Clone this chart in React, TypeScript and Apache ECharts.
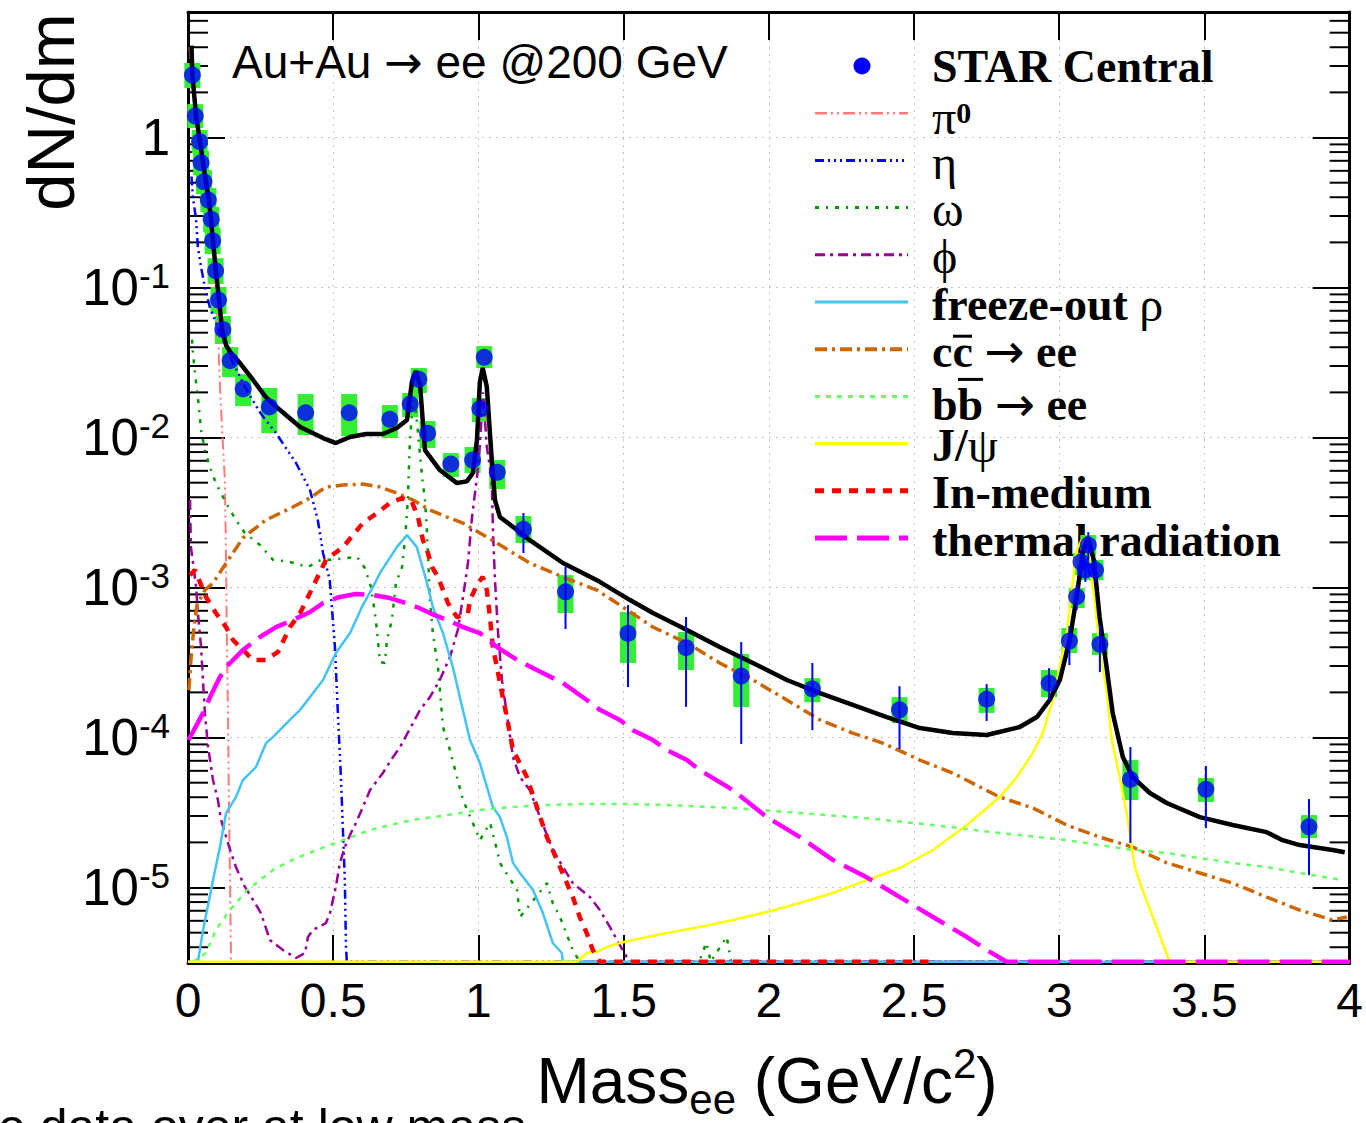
import React, { useEffect, useRef } from "react";
import * as echarts from "echarts";

// ---------------- axis range ----------------
const Y_MIN = 3.14e-6;
const Y_MAX = 6.87;
const X_MIN = 0;
const X_MAX = 4;
const FLOOR = 3.2e-6; // curves that vanish sit on the bottom frame

// ---------------- STAR data: [mass, dN/dm, sysLo, sysHi, statLo, statHi] ----------------
const STAR_POINTS: (number | null)[][] = [
  [0.015, 2.61, 2.14, 3.14, null, null],
  [0.025, 1.39, 1.157, 1.67, null, null],
  [0.04, 0.938, 0.788, 1.122, null, null],
  [0.045, 0.679, 0.562, 0.813, null, null],
  [0.055, 0.507, 0.42, 0.607, null, null],
  [0.07, 0.383, 0.319, 0.461, null, null],
  [0.08, 0.285, 0.234, 0.344, null, null],
  [0.085, 0.205, 0.167, 0.249, null, null],
  [0.095, 0.1294, 0.1055, 0.157, null, null],
  [0.105, 0.0825, 0.0666, 0.1008, null, null],
  [0.12, 0.0526, 0.042, 0.0646, null, null],
  [0.145, 0.0325, 0.0253, 0.0401, null, null],
  [0.19, 0.0211, 0.0162, 0.0265, null, null],
  [0.28, 0.016, 0.0107, 0.0214, null, null],
  [0.405, 0.01463, 0.01039, 0.0195, null, null],
  [0.555, 0.01463, 0.01023, 0.0195, null, null],
  [0.695, 0.01322, 0.00992, 0.01647, null, null],
  [0.765, 0.01672, 0.0137, 0.0198, null, null],
  [0.795, 0.02443, 0.0198, 0.0291, null, null],
  [0.825, 0.01067, 0.00851, 0.01288, null, null],
  [0.905, 0.00666, 0.00545, 0.00788, null, null],
  [0.98, 0.00708, 0.0058, 0.00865, null, null],
  [1.005, 0.01556, 0.01269, 0.01834, null, null],
  [1.02, 0.03425, 0.0291, 0.0407, null, null],
  [1.065, 0.00586, 0.00454, 0.00708, null, null],
  [1.155, 0.002443, 0.00198, 0.003, 0.0017, 0.00314],
  [1.3, 0.000937, 0.000676, 0.00121, 0.000529, 0.00137],
  [1.515, 0.000494, 0.000314, 0.000687, 0.000217, 0.000764],
  [1.715, 0.000397, 0.000282, 0.000505, 0.00016, 0.000636],
  [1.905, 0.000257, 0.00016, 0.00036, 9.05e-5, 0.000433],
  [2.15, 0.000211, 0.000172, 0.000249, 0.000112, 0.000314],
  [2.45, 0.000153, 0.000125, 0.000186, 8.38e-5, 0.00022],
  [2.75, 0.00018, 0.000146, 0.000214, 0.000129, 0.000227],
  [2.965, 0.00023, 0.000186, 0.000282, 0.000178, 0.00029],
  [3.035, 0.00044, 0.000366, 0.000537, 0.000304, 0.000554],
  [3.06, 0.000868, 0.00073, 0.000992, 0.000708, 0.00104],
  [3.075, 0.00148, 0.00121, 0.0017, 0.00121, 0.00178],
  [3.09, 0.001308, 0.00112, 0.00153, 0.00109, 0.00157],
  [3.1, 0.00192, 0.00162, 0.00224, 0.00153, 0.00234],
  [3.125, 0.001308, 0.00112, 0.00153, 0.00109, 0.00153],
  [3.14, 0.000418, 0.000355, 0.000497, 0.000273, 0.000562],
  [3.245, 5.26e-5, 3.83e-5, 7.08e-5, 1.98e-5, 8.64e-5],
  [3.505, 4.52e-5, 3.72e-5, 5.37e-5, 2.49e-5, 6.46e-5],
  [3.86, 2.54e-5, 2.14e-5, 3.04e-5, 1.21e-5, 3.89e-5],
];

// ---------------- cocktail curves: [mass, dN/dm] ----------------
const TOTAL = [
  [0.012, 4.1], [0.015, 2.61], [0.028, 1.39], [0.041, 0.948], [0.052, 0.676], [0.062, 0.505],
  [0.072, 0.383], [0.079, 0.286], [0.086, 0.205], [0.096, 0.129], [0.107, 0.0825], [0.117, 0.0529],
  [0.131, 0.0414], [0.145, 0.0372], [0.179, 0.0314], [0.224, 0.0242], [0.268, 0.0186], [0.317, 0.01525],
  [0.386, 0.01175], [0.465, 0.00992], [0.509, 0.00919], [0.558, 0.01008], [0.613, 0.01055], [0.671, 0.01055],
  [0.719, 0.01157], [0.754, 0.01308], [0.771, 0.02344], [0.785, 0.02775], [0.799, 0.0224], [0.816, 0.00825],
  [0.867, 0.00607], [0.926, 0.00497], [0.96, 0.0051], [0.981, 0.0058], [0.995, 0.00962], [1.005, 0.02344],
  [1.015, 0.0291], [1.029, 0.0217], [1.046, 0.00708], [1.057, 0.00383], [1.074, 0.00295], [1.133, 0.00242],
  [1.177, 0.00207], [1.291, 0.001457], [1.408, 0.00112], [1.522, 0.000825], [1.601, 0.000676], [1.718, 0.000521],
  [1.831, 0.000401], [1.945, 0.000314], [2.062, 0.000242], [2.176, 0.000198], [2.289, 0.000165], [2.406, 0.000137],
  [2.52, 0.0001157], [2.633, 0.0001072], [2.75, 0.0001039], [2.864, 0.0001175], [2.923, 0.000137], [2.967, 0.000178],
  [3.002, 0.000242], [3.036, 0.000447], [3.06, 0.000868], [3.081, 0.0017], [3.098, 0.00217], [3.119, 0.00153],
  [3.139, 0.000636], [3.163, 0.000295], [3.184, 0.000146], [3.219, 7.41e-5], [3.253, 5.45e-5], [3.312, 4.27e-5],
  [3.37, 3.66e-5], [3.484, 2.95e-5], [3.597, 2.61e-5], [3.714, 2.34e-5], [3.769, 2.07e-5], [3.828, 1.92e-5],
  [3.941, 1.78e-5], [3.983, 1.72e-5],
];

const PI0 = [
  [0.005, 4.0], [0.014, 2.45], [0.028, 1.3], [0.041, 0.87], [0.052, 0.61], [0.062, 0.45], [0.072, 0.33],
  [0.079, 0.24], [0.086, 0.165], [0.096, 0.095], [0.104, 0.045], [0.111, 0.02], [0.118, 0.0107], [0.127, 0.0052],
  [0.131, 0.00154], [0.134, 4.5e-4], [0.138, 1.27e-4], [0.141, 3.6e-5], [0.145, 1.05e-5], [0.148, FLOOR], [4.0, FLOOR],
];

const ETA = [
  [0.012, 0.55], [0.017, 0.4], [0.028, 0.282], [0.034, 0.186], [0.045, 0.137], [0.058, 0.1008], [0.075, 0.0741],
  [0.093, 0.0607], [0.11, 0.0497], [0.15, 0.033], [0.2, 0.021], [0.25, 0.0145], [0.303, 0.0107], [0.372, 0.00676],
  [0.42, 0.00447], [0.447, 0.00282], [0.465, 0.0017], [0.488, 0.00112], [0.506, 0.000401], [0.516, 0.000146],
  [0.527, 5.21e-5], [0.54, 1.12e-5], [0.544, 4.0e-6], [0.547, FLOOR], [4.0, FLOOR],
];

const OMEGA = [
  [0.014, 0.045], [0.017, 0.0366], [0.024, 0.0269], [0.034, 0.0186], [0.045, 0.0112], [0.058, 0.00825],
  [0.075, 0.00636], [0.096, 0.00497], [0.131, 0.00366], [0.165, 0.00282], [0.196, 0.00231], [0.248, 0.00192],
  [0.293, 0.00153], [0.351, 0.00148], [0.413, 0.00137], [0.458, 0.00153], [0.489, 0.00153], [0.582, 0.0016],
  [0.609, 0.00135], [0.63, 0.00101], [0.647, 0.000607], [0.661, 0.000319], [0.678, 0.000314], [0.685, 0.000447],
  [0.702, 0.000607], [0.716, 0.00107], [0.737, 0.00137], [0.747, 0.00207], [0.757, 0.00383], [0.764, 0.00962],
  [0.775, 0.018], [0.785, 0.015], [0.792, 0.0107], [0.806, 0.00545], [0.816, 0.00383], [0.823, 0.00231],
  [0.833, 0.000825], [0.843, 0.000497], [0.861, 0.00029], [0.878, 0.0001175], [0.902, 8.25e-5], [0.926, 5.45e-5],
  [0.947, 3.83e-5], [0.981, 2.69e-5], [1.005, 2.07e-5], [1.04, 2.69e-5], [1.064, 1.78e-5], [1.074, 1.46e-5],
  [1.133, 9.62e-6], [1.143, 6.36e-6], [1.236, 1.07e-5], [1.256, 7.88e-6], [1.281, 6.36e-6], [1.325, 3.83e-6],
  [1.349, FLOOR], [1.76, FLOOR], [1.785, 4.3e-6], [1.8, FLOOR], [1.855, 4.7e-6], [1.87, FLOOR], [4.0, FLOOR],
];

const PHI = [
  [0.007, 0.00383], [0.01, 0.00186], [0.028, 0.00101], [0.034, 0.000676], [0.045, 0.000401], [0.058, 0.000146],
  [0.069, 8.71e-5], [0.086, 5.21e-5], [0.103, 3.83e-5], [0.114, 2.82e-5], [0.145, 1.78e-5], [0.165, 1.37e-5],
  [0.196, 1.01e-5], [0.231, 7.88e-6], [0.251, 6.76e-6], [0.282, 4.47e-6], [0.327, 3.83e-6], [0.372, 3.39e-6],
  [0.403, 3.66e-6], [0.413, 4.68e-6], [0.43, 5.21e-6], [0.475, 5.8e-6], [0.489, 6.76e-6], [0.509, 1.01e-5],
  [0.523, 1.46e-5], [0.54, 1.86e-5], [0.561, 2.31e-5], [0.578, 2.69e-5], [0.602, 3.44e-5], [0.627, 4.47e-5],
  [0.671, 5.8e-5], [0.699, 7.08e-5], [0.73, 8.64e-5], [0.775, 0.000125], [0.799, 0.000153], [0.833, 0.000186],
  [0.867, 0.000242], [0.902, 0.000344], [0.929, 0.000521], [0.947, 0.000865], [0.964, 0.001457], [0.978, 0.00295],
  [0.995, 0.00545], [1.005, 0.00891], [1.016, 0.02], [1.029, 0.00865], [1.046, 0.00521], [1.05, 0.00242],
  [1.057, 0.00112], [1.067, 0.000521], [1.081, 0.000242], [1.098, 0.000143], [1.119, 7.41e-5], [1.143, 5.45e-5],
  [1.177, 4.47e-5], [1.212, 2.95e-5], [1.256, 1.78e-5], [1.325, 1.07e-5], [1.384, 8.64e-6], [1.418, 7.08e-6],
  [1.453, 5.45e-6], [1.477, 4.47e-6], [1.511, 3.44e-6], [1.53, FLOOR], [4.0, FLOOR],
];

const RHO = [
  [0.0, FLOOR], [0.034, FLOOR], [0.052, 5.21e-6], [0.086, 1.12e-5], [0.11, 1.86e-5], [0.131, 3.14e-5],
  [0.165, 4.01e-5], [0.189, 5.21e-5], [0.234, 6.36e-5], [0.269, 9.19e-5], [0.293, 0.000101], [0.351, 0.000131],
  [0.386, 0.000153], [0.42, 0.000186], [0.465, 0.000242], [0.509, 0.000366], [0.558, 0.000497], [0.602, 0.000764],
  [0.637, 0.00101], [0.661, 0.00125], [0.719, 0.00186], [0.754, 0.00224], [0.788, 0.00186], [0.823, 0.00107],
  [0.843, 0.000741], [0.878, 0.000497], [0.912, 0.000295], [0.936, 0.000186], [0.971, 9.62e-5], [1.005, 6.76e-5],
  [1.05, 3.44e-5], [1.074, 2.95e-5], [1.098, 2.17e-5], [1.119, 1.46e-5], [1.143, 1.25e-5], [1.188, 9.62e-6],
  [1.222, 6.76e-6], [1.256, 4.27e-6], [1.287, 3.66e-6], [1.291, FLOOR], [4.0, FLOOR],
];

const CCBAR = [
  [0.003, 0.000207], [0.01, 0.000329], [0.021, 0.000562], [0.031, 0.000764], [0.058, 0.000962], [0.086, 0.00107],
  [0.12, 0.00135], [0.155, 0.0017], [0.189, 0.00214], [0.224, 0.00242], [0.268, 0.00282], [0.361, 0.00344],
  [0.42, 0.00395], [0.475, 0.00468], [0.534, 0.00482], [0.602, 0.0049], [0.661, 0.00468], [0.719, 0.00427],
  [0.775, 0.00383], [0.833, 0.00329], [0.892, 0.00295], [0.947, 0.00269], [1.005, 0.00231], [1.064, 0.00198],
  [1.119, 0.0017], [1.177, 0.001457], [1.291, 0.001175], [1.408, 0.000962], [1.487, 0.000764], [1.601, 0.000545],
  [1.718, 0.000427], [1.831, 0.000314], [1.945, 0.000242], [2.062, 0.000178], [2.176, 0.000131], [2.289, 0.000107],
  [2.392, 9.19e-5], [2.52, 7.08e-5], [2.633, 5.8e-5], [2.795, 4.01e-5], [2.909, 3.39e-5], [3.026, 2.61e-5],
  [3.139, 2.17e-5], [3.253, 1.86e-5], [3.37, 1.46e-5], [3.484, 1.25e-5], [3.597, 1.07e-5], [3.714, 8.64e-6],
  [3.828, 7.08e-6], [3.941, 6.07e-6], [3.99, 6.36e-6],
];

const BBBAR = [
  [0.017, FLOOR], [0.062, 3.66e-6], [0.096, 5.21e-6], [0.145, 7.08e-6], [0.203, 9.62e-6], [0.248, 1.12e-5],
  [0.293, 1.31e-5], [0.372, 1.57e-5], [0.454, 1.81e-5], [0.534, 2.07e-5], [0.627, 2.42e-5], [0.695, 2.61e-5],
  [0.775, 2.82e-5], [0.892, 3.04e-5], [1.005, 3.29e-5], [1.119, 3.44e-5], [1.236, 3.55e-5], [1.349, 3.6e-5],
  [1.511, 3.6e-5], [1.649, 3.55e-5], [1.876, 3.39e-5], [2.107, 3.14e-5], [2.337, 2.9e-5], [2.565, 2.61e-5],
  [2.795, 2.31e-5], [2.957, 2.14e-5], [3.026, 2.07e-5], [3.139, 1.92e-5], [3.253, 1.78e-5], [3.37, 1.7e-5],
  [3.484, 1.57e-5], [3.597, 1.46e-5], [3.714, 1.37e-5], [3.828, 1.25e-5], [3.976, 1.12e-5],
];

const JPSI = [
  [0.0, FLOOR], [1.339, FLOOR], [1.373, 3.66e-6], [1.408, 3.73e-6], [1.442, 4.01e-6], [1.487, 4.27e-6],
  [1.532, 4.47e-6], [1.649, 4.97e-6], [1.762, 5.45e-6], [1.876, 6.07e-6], [1.993, 6.87e-6], [2.107, 7.88e-6],
  [2.22, 9.19e-6], [2.337, 1.12e-5], [2.451, 1.35e-5], [2.565, 1.78e-5], [2.682, 2.61e-5], [2.795, 4.01e-5],
  [2.854, 5.45e-5], [2.909, 7.88e-5], [2.943, 0.000107], [2.978, 0.000178], [3.002, 0.000295], [3.026, 0.000497],
  [3.043, 0.000962], [3.06, 0.00178], [3.077, 0.00207], [3.098, 0.00186], [3.122, 0.000825], [3.139, 0.000383],
  [3.163, 0.000207], [3.181, 9.62e-5], [3.208, 5.45e-5], [3.232, 3.14e-5], [3.26, 1.37e-5], [3.287, 9.62e-6],
  [3.322, 6.36e-6], [3.356, 4.27e-6], [3.38, FLOOR], [4.0, FLOOR],
];

const INMEDIUM = [
  [0.007, 0.00121], [0.024, 0.00131], [0.062, 0.000865], [0.096, 0.000676], [0.131, 0.000545], [0.155, 0.000447],
  [0.224, 0.000329], [0.268, 0.000329], [0.31, 0.000372], [0.351, 0.000545], [0.386, 0.000676], [0.43, 0.00101],
  [0.475, 0.00153], [0.534, 0.00186], [0.568, 0.00224], [0.602, 0.00269], [0.651, 0.00314], [0.695, 0.00366],
  [0.737, 0.00395], [0.771, 0.00372], [0.792, 0.00295], [0.809, 0.00207], [0.823, 0.00178], [0.84, 0.00137],
  [0.861, 0.001175], [0.878, 0.000962], [0.895, 0.000788], [0.926, 0.000636], [0.964, 0.000676], [0.971, 0.000825],
  [0.998, 0.00107], [1.015, 0.001175], [1.029, 0.000962], [1.04, 0.000626], [1.05, 0.000395], [1.064, 0.000295],
  [1.074, 0.000231], [1.098, 0.000137], [1.119, 8.25e-5], [1.167, 5.45e-5], [1.201, 3.44e-5], [1.236, 2.17e-5],
  [1.281, 1.37e-5], [1.325, 8.64e-6], [1.349, 6.36e-6], [1.373, 4.97e-6], [1.394, 3.83e-6], [1.418, FLOOR],
  [2.55, FLOOR],
];

const THERMAL = [
  [0.002, 9.62e-5], [0.052, 0.000146], [0.076, 0.000186], [0.11, 0.000253], [0.131, 0.000295], [0.189, 0.000383],
  [0.248, 0.000468], [0.303, 0.000545], [0.361, 0.000607], [0.42, 0.000687], [0.465, 0.000788], [0.523, 0.000865],
  [0.578, 0.000905], [0.637, 0.000891], [0.695, 0.000851], [0.74, 0.0008], [0.788, 0.000741], [0.833, 0.000676],
  [0.892, 0.000607], [0.947, 0.000545], [1.005, 0.000497], [1.064, 0.000401], [1.133, 0.000329], [1.201, 0.000282],
  [1.291, 0.000231], [1.373, 0.000178], [1.418, 0.000153], [1.487, 0.000131], [1.532, 0.000112], [1.601, 9.62e-5],
  [1.649, 8.25e-5], [1.718, 7.08e-5], [1.762, 6.07e-5], [1.876, 4.47e-5], [1.993, 2.95e-5], [2.107, 2.17e-5],
  [2.22, 1.53e-5], [2.337, 1.17e-5], [2.451, 8.64e-6], [2.565, 6.36e-6], [2.682, 4.68e-6], [2.75, 3.83e-6],
  [2.819, FLOOR], [4.0, FLOOR],
];

// ---------------- axis ticks ----------------
const X_TICK_STEP = 0.5;
const MINOR_MULTIPLIERS = [2, 3, 4, 5, 6, 7, 8, 9];
const DECADES = [1e-6, 1e-5, 1e-4, 1e-3, 1e-2, 1e-1, 1];

// ---------------- styles ----------------
const CURVES = [
  { name: "π0", data: PI0, color: "#ff7b7b", width: 2, dash: [12, 4, 2, 4, 2, 4] },
  { name: "η", data: ETA, color: "#0000ff", width: 2.5, dash: [9, 4, 2, 4, 2, 4, 2, 4] },
  { name: "ω", data: OMEGA, color: "#009900", width: 2.5, dash: [4, 7, 2, 7] },
  { name: "ϕ", data: PHI, color: "#990099", width: 2.5, dash: [10, 5, 3, 5] },
  { name: "freeze-out ρ", data: RHO, color: "#44c4f2", width: 2.5, dash: "solid" },
  { name: "cc → ee", data: CCBAR, color: "#cc6600", width: 3.5, dash: [12, 5, 3, 5] },
  { name: "bb → ee", data: BBBAR, color: "#66ff66", width: 2.5, dash: [5, 6] },
  { name: "J/ψ", data: JPSI, color: "#ffff00", width: 2.5, dash: "solid" },
  { name: "In-medium", data: INMEDIUM, color: "#ff0000", width: 4.5, dash: [9, 8] },
  { name: "thermal radiation", data: THERMAL, color: "#ff00ff", width: 4.5, dash: [32, 10] },
];

const SERIF = "'Liberation Serif', 'Times New Roman', serif";
const SANS = "'Liberation Sans', Arial, Helvetica, sans-serif";
const ARROW = "'DejaVu Sans', sans-serif";

function buildOption() {
  const minorTicks: number[][] = [];
  DECADES.forEach((d) =>
    MINOR_MULTIPLIERS.forEach((m) => {
      const v = d * m;
      if (v > Y_MIN && v < Y_MAX) minorTicks.push([X_MIN, v]);
    })
  );

  const sysData = STAR_POINTS.map((p) => [p[0], p[2], p[3]]);
  const statData = STAR_POINTS.filter((p) => p[4] != null).map((p) => [p[0], p[4], p[5]]);
  const pointData = STAR_POINTS.map((p) => [p[0], p[1]]);

  const yLabelFormatter = (v: number) => {
    const lg = Math.log10(v);
    const e = Math.round(lg);
    if (Math.abs(lg - e) > 1e-3) return "";
    if (e === 0) return "{b|1}";
    return `{b|10}{s|${e}}`;
  };

  const frameLine = { show: true, onZero: false, lineStyle: { color: "#000", width: 3 } };
  const gridLine = { show: true, lineStyle: { color: "#c4c4c4", width: 1, type: [2, 5] } };

  // ---------- legend (drawn as graphics) ----------
  const LX1 = 815, LX2 = 908, TX = 932, Y0 = 66, DY = 47.2;
  const rich = {
    t: { fontFamily: SERIF, fontWeight: "bold", fontSize: 46, lineHeight: 40, fill: "#000" },
    g: { fontFamily: SERIF, fontWeight: "normal", fontSize: 48, lineHeight: 40, fill: "#000" },
    gs: { fontFamily: SERIF, fontWeight: "bold", fontSize: 30, lineHeight: 12, verticalAlign: "top", fill: "#000" },
    a: { fontFamily: ARROW, fontWeight: "normal", fontSize: 48, lineHeight: 40, fill: "#000" },
  };
  const legendTexts = [
    "{t|STAR Central}",
    "{g|π}{gs|0}",
    "{g|η}",
    "{g|ω}",
    "{g|ϕ}",
    "{t|freeze-out }{g|ρ}",
    "{t|cc }{a|→}{t| ee}",
    "{t|bb }{a|→}{t| ee}",
    "{t|J/}{g|ψ}",
    "{t|In-medium}",
    "{t|thermal radiation}",
  ];
  const textDy = [0, 4, 2, 2, 2, 2, 2, 8, 2, 2, 2];
  const graphics: any[] = [];
  legendTexts.forEach((txt, i) => {
    const y = Y0 + DY * i;
    graphics.push({
      type: "text",
      z: 1,
      x: TX,
      y: y + textDy[i],
      style: { text: txt, rich, align: "left", verticalAlign: "middle" },
    });
    if (i === 0) {
      graphics.push({ type: "circle", z: 1, shape: { cx: 862, cy: y, r: 8.5 }, style: { fill: "#0000ff" } });
    } else {
      const c = CURVES[i - 1];
      graphics.push({
        type: "line",
        z: 1,
        shape: { x1: LX1, y1: y, x2: LX2, y2: y },
        style: {
          stroke: c.color,
          lineWidth: c.width + 0.5,
          lineDash: c.dash === "solid" ? null : c.dash,
        },
      });
    }
  });
  // over-bars for c-bar and b-bar
  const ccY = Y0 + DY * 6 + textDy[6];
  graphics.push({ type: "line", z: 1, shape: { x1: 953, y1: ccY - 15, x2: 972, y2: ccY - 15 }, style: { stroke: "#000", lineWidth: 3 } });
  const bbY = Y0 + DY * 7 + textDy[7];
  graphics.push({ type: "line", z: 1, shape: { x1: 958, y1: bbY - 25, x2: 983, y2: bbY - 25 }, style: { stroke: "#000", lineWidth: 3 } });

  // plot caption
  graphics.push({
    type: "text",
    z: 1,
    x: 232,
    y: 62,
    style: {
      text: "{t|Au+Au }{a|→}{t| ee @200 GeV}",
      rich: {
        t: { fontFamily: SANS, fontSize: 46, lineHeight: 50, fill: "#000" },
        a: { fontFamily: ARROW, fontSize: 46, lineHeight: 50, fill: "#000" },
      },
      align: "left",
      verticalAlign: "middle",
    },
  });
  // axis titles
  graphics.push({
    type: "text",
    z: 1,
    x: 767,
    y: 1081,
    style: {
      text: "{m|Mass}{sub|ee}{m| (GeV/c}{sup|2}{m|)}",
      rich: {
        m: { fontFamily: SANS, fontSize: 64, lineHeight: 78, fill: "#000" },
        sub: { fontFamily: SANS, fontSize: 42, lineHeight: 36, verticalAlign: "bottom", fill: "#000" },
        sup: { fontFamily: SANS, fontSize: 42, lineHeight: 44, verticalAlign: "top", fill: "#000" },
      },
      align: "center",
      verticalAlign: "middle",
    },
  });
  graphics.push({
    type: "text",
    z: 1,
    x: 50,
    y: 112,
    rotation: Math.PI / 2,
    style: {
      text: "dN/dm",
      fontFamily: SANS,
      fontSize: 67,
      fill: "#000",
      align: "center",
      verticalAlign: "middle",
    },
  });
  // cropped slide text at the very bottom (cut off by the page edge, as in the source)
  graphics.push({
    type: "text",
    z: 1,
    x: -2,
    y: 1127,
    style: {
      text: "e data over at low mass",
      fontFamily: SANS,
      fontSize: 50,
      fill: "#000",
      align: "left",
      verticalAlign: "middle",
    },
  });

  const curveSeries = CURVES.map((c) => ({
    type: "line",
    name: c.name,
    data: c.data,
    showSymbol: false,
    symbol: "none",
    silent: true,
    clip: true,
    z: 4,
    lineStyle: { color: c.color, width: c.width, type: c.dash },
  }));

  return {
    animation: false,
    backgroundColor: "#fff",
    textStyle: { fontFamily: SANS },
    grid: { left: 188, top: 12, width: 1162, height: 951, containLabel: false },
    xAxis: [
      {
        type: "value",
        min: X_MIN,
        max: X_MAX,
        interval: X_TICK_STEP,
        position: "bottom",
        axisLine: frameLine,
        axisTick: { show: true, inside: true, length: 28, lineStyle: { color: "#000", width: 2 } },
        axisLabel: { show: true, fontSize: 48, fontFamily: SANS, color: "#000", margin: 13 },
        splitLine: gridLine,
      },
      {
        type: "value",
        min: X_MIN,
        max: X_MAX,
        interval: X_TICK_STEP,
        position: "top",
        axisLine: frameLine,
        axisTick: { show: true, inside: true, length: 28, lineStyle: { color: "#000", width: 2 } },
        axisLabel: { show: false },
        splitLine: { show: false },
      },
    ],
    yAxis: [
      {
        type: "log",
        logBase: 10,
        min: Y_MIN,
        max: Y_MAX,
        position: "left",
        axisLine: frameLine,
        axisTick: { show: true, inside: true, length: 37, lineStyle: { color: "#000", width: 2 } },
        axisLabel: {
          show: true,
          margin: 18,
          formatter: yLabelFormatter,
          rich: {
            b: { fontSize: 51, fontFamily: SANS, color: "#000", lineHeight: 60 },
            s: { fontSize: 35, fontFamily: SANS, color: "#000", lineHeight: 30, verticalAlign: "top" },
          },
        },
        splitLine: gridLine,
      },
      {
        type: "log",
        logBase: 10,
        min: Y_MIN,
        max: Y_MAX,
        position: "right",
        axisLine: frameLine,
        axisTick: { show: true, inside: true, length: 37, lineStyle: { color: "#000", width: 2 } },
        axisLabel: { show: false },
        splitLine: { show: false },
      },
    ],
    graphic: { elements: graphics },
    series: [
      {
        type: "custom",
        name: "minor ticks",
        silent: true,
        z: 1,
        data: minorTicks,
        encode: { x: 0, y: 1 },
        renderItem: (_p: any, api: any) => {
          const v = api.value(1);
          const l = api.coord([X_MIN, v]);
          const r = api.coord([X_MAX, v]);
          return {
            type: "group",
            children: [
              { type: "line", shape: { x1: l[0], y1: l[1], x2: l[0] + 20, y2: l[1] }, style: { stroke: "#000", lineWidth: 2 } },
              { type: "line", shape: { x1: r[0] - 20, y1: r[1], x2: r[0], y2: r[1] }, style: { stroke: "#000", lineWidth: 2 } },
            ],
          };
        },
      },
      {
        type: "custom",
        name: "sys",
        silent: true,
        z: 3,
        data: sysData,
        encode: { x: 0, y: [1, 2] },
        renderItem: (_p: any, api: any) => {
          const x = api.value(0);
          const lo = api.coord([x, api.value(1)]);
          const hi = api.coord([x, api.value(2)]);
          return {
            type: "rect",
            shape: { x: lo[0] - 8, y: hi[1], width: 16, height: lo[1] - hi[1] },
            style: { fill: "#33ee33" },
          };
        },
      },
      ...curveSeries,
      {
        type: "line",
        name: "total",
        data: TOTAL,
        showSymbol: false,
        symbol: "none",
        silent: true,
        clip: true,
        z: 5,
        lineStyle: { color: "#000", width: 4.5 },
      },
      {
        type: "custom",
        name: "stat",
        silent: true,
        z: 6,
        data: statData,
        encode: { x: 0, y: [1, 2] },
        renderItem: (_p: any, api: any) => {
          const x = api.value(0);
          const lo = api.coord([x, api.value(1)]);
          const hi = api.coord([x, api.value(2)]);
          return {
            type: "line",
            shape: { x1: lo[0], y1: lo[1], x2: hi[0], y2: hi[1] },
            style: { stroke: "#0000ff", lineWidth: 2 },
          };
        },
      },
      {
        type: "scatter",
        name: "STAR Central",
        data: pointData,
        symbol: "circle",
        symbolSize: 17,
        silent: true,
        z: 7,
        itemStyle: { color: "#0000ff" },
      },
    ],
  };
}

export default function App() {
  const ref = useRef<HTMLDivElement>(null);
  useEffect(() => {
    if (!ref.current) return;
    const chart = echarts.init(ref.current, undefined, { renderer: "svg" });
    chart.setOption(buildOption() as any);
    return () => chart.dispose();
  }, []);
  return (
    <div
      ref={ref}
      style={{ position: "absolute", left: 0, top: 0, width: 1366, height: 1123, background: "#fff" }}
    />
  );
}
